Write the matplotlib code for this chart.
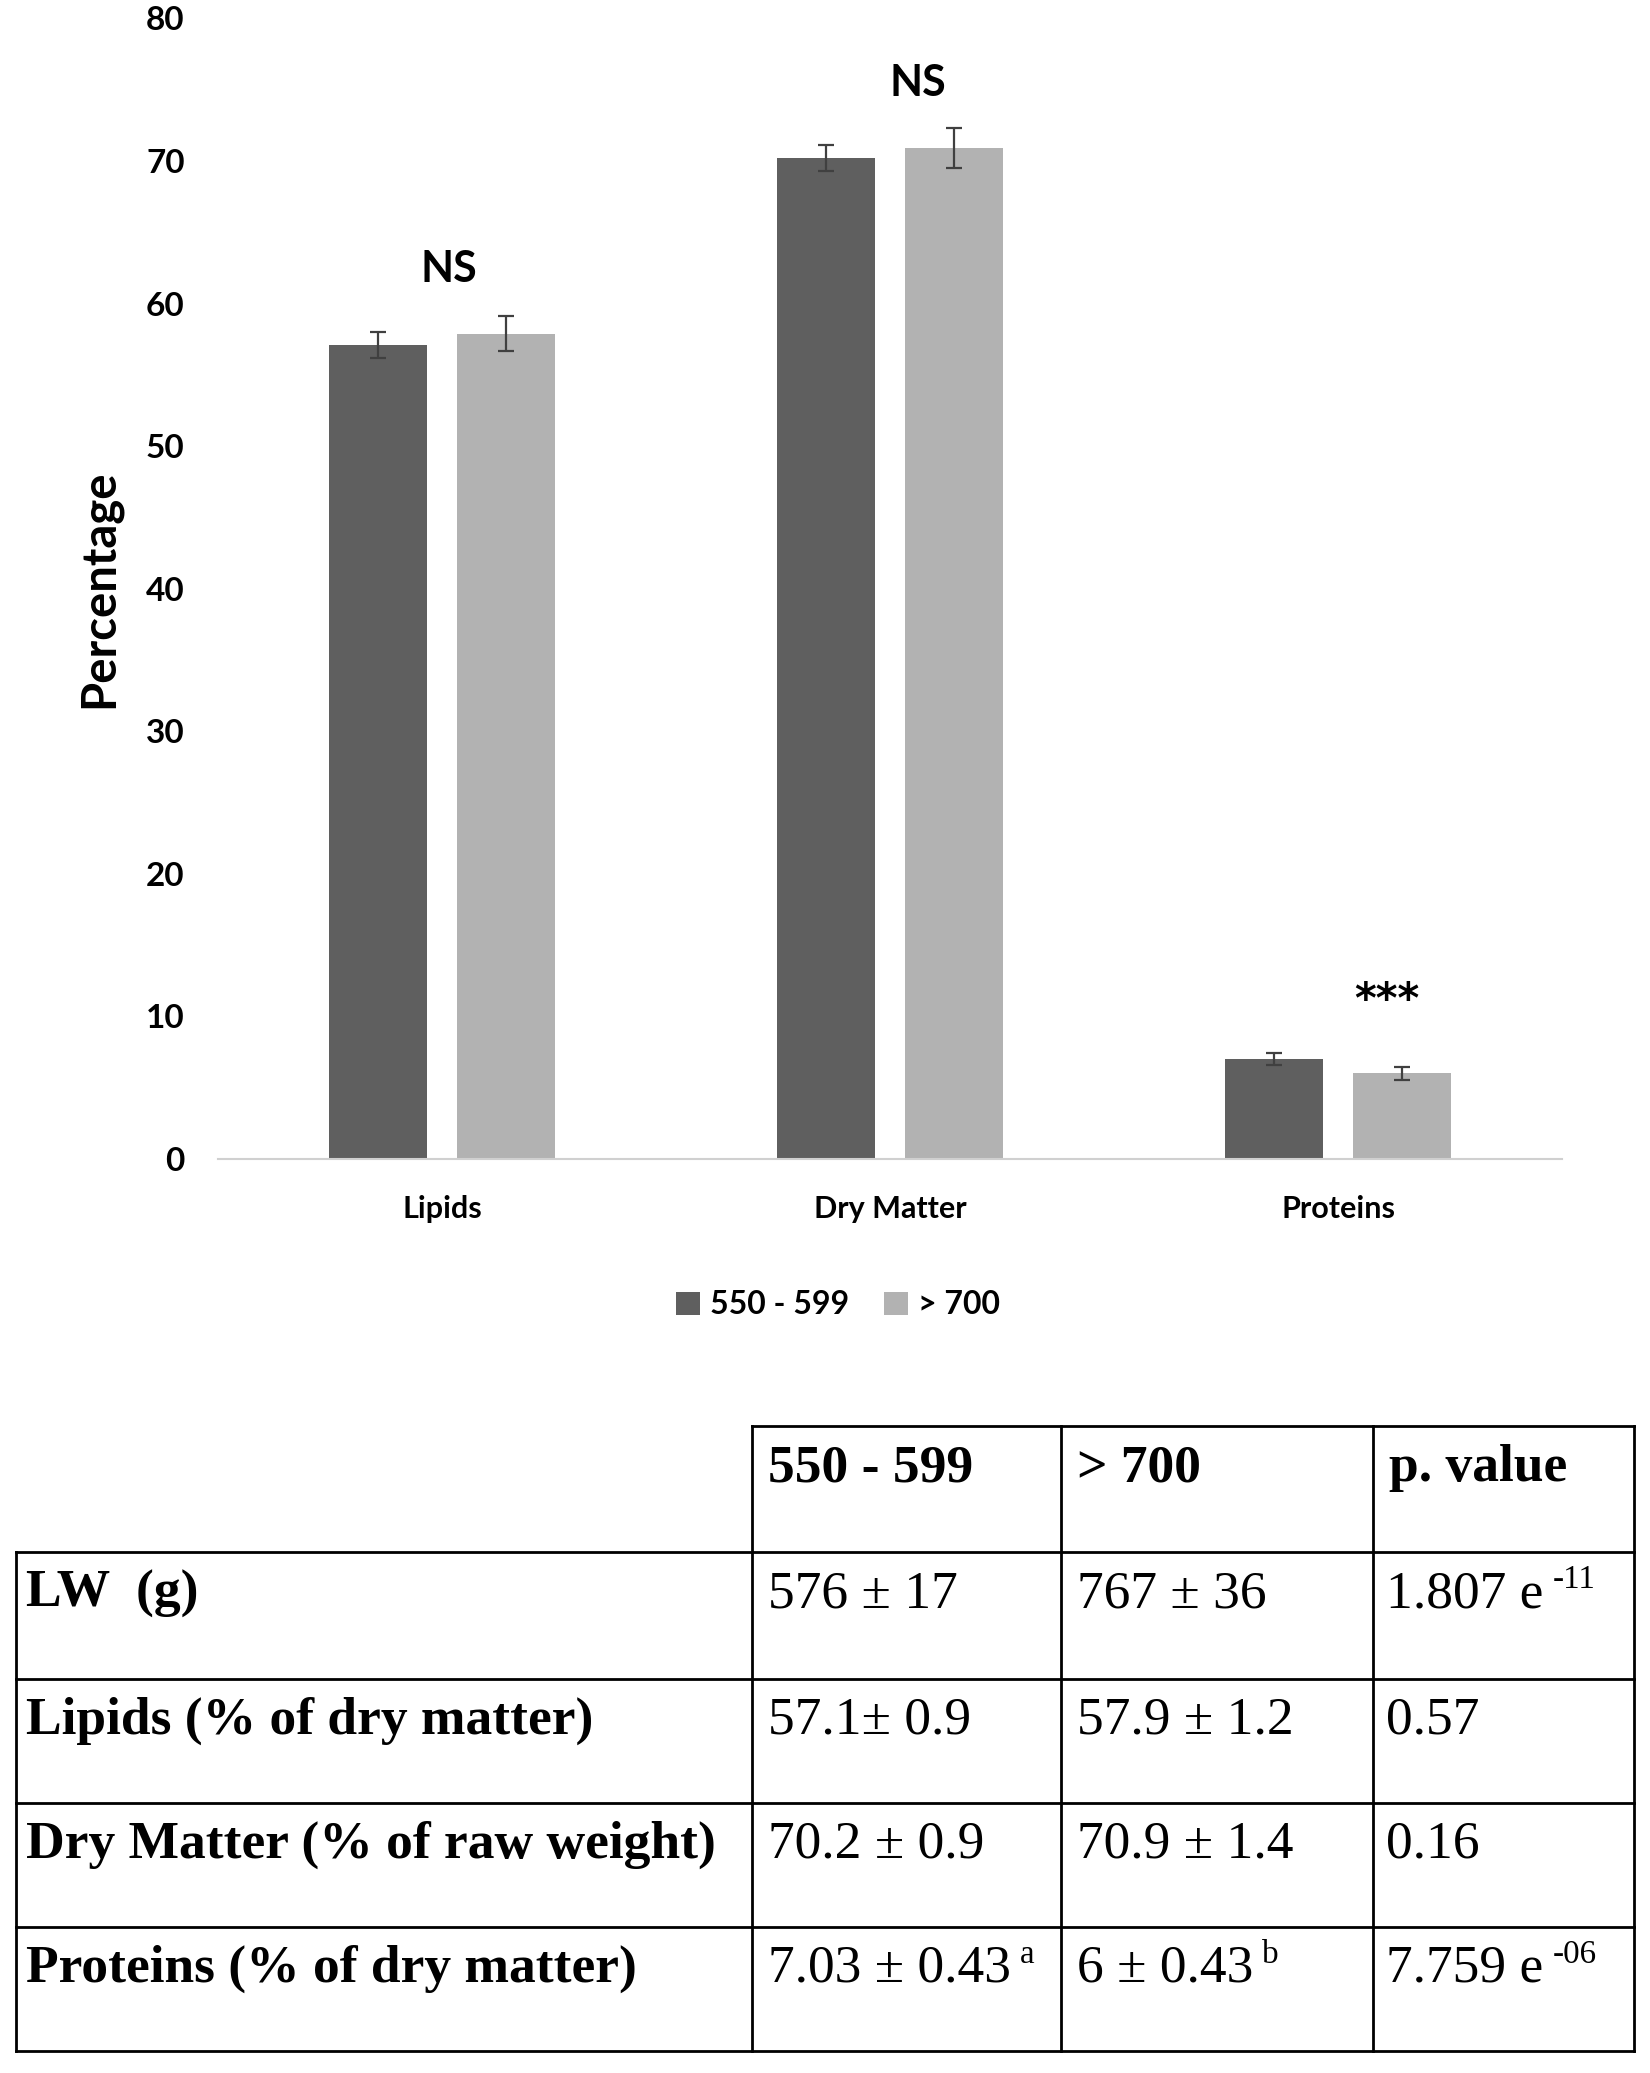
import matplotlib
matplotlib.use("Agg")
import matplotlib.pyplot as plt
import numpy as np

# chart data
categories = ["Lipids", "Dry Matter", "Proteins"]
groups = ["550 - 599", "> 700"]
mean_small = [57.1, 70.2, 7.03]
mean_large = [57.9, 70.9, 6.0]
err_small = [0.9, 0.9, 0.43]
err_large = [1.2, 1.4, 0.43]
signif = ["NS", "NS", "***"]
signif_x = [0.016, 1.063, 2.11]
signif_y = [62.4, 75.5, 11.1]
yticks = [0, 10, 20, 30, 40, 50, 60, 70, 80]

# table data
table_header = ["550 - 599", "> 700", "p. value"]
row_labels = ["LW  (g)", "Lipids (% of dry matter)", "Dry Matter (% of raw weight)", "Proteins (% of dry matter)"]
col_small = ["576 \u00b1 17", "57.1\u00b1 0.9", "70.2 \u00b1 0.9", "7.03 \u00b1 0.43"]
col_large = ["767 \u00b1 36", "57.9 \u00b1 1.2", "70.9 \u00b1 1.4", "6 \u00b1 0.43"]
col_pval = ["1.807 e", "0.57", "0.16", "7.759 e"]
sup_small = ["", "", "", "a"]
sup_large = ["", "", "", "b"]
sup_pval = ["-11", "", "", "-06"]

W, H = 1650, 2073
fig = plt.figure(figsize=(W / 100, H / 100), dpi=100)

sans = ["Lato", "DejaVu Sans"]
serif = ["Liberation Serif", "DejaVu Serif"]

ax = fig.add_axes([218 / W, 1 - 1159 / H, (1562 - 218) / W, (1159 - 18.5) / H])
x = np.arange(len(categories))
bw = 0.22
off = 0.143
dark = "#5f5f5f"
light = "#b2b2b2"
ekw = dict(ecolor="#404040", elinewidth=1.6, capsize=5.5, capthick=1.6)
ax.bar(x - off, mean_small, bw, color=dark, yerr=err_small, error_kw=ekw, label=groups[0])
ax.bar(x + off, mean_large, bw, color=light, yerr=err_large, error_kw=ekw, label=groups[1])
ax.set_xlim(-0.5, 2.5)
ax.set_ylim(0, 80)
ax.set_yticks(yticks)
ax.set_yticklabels([str(t) for t in yticks], fontsize=24, fontweight="bold", family=sans)
ax.set_xticks(x)
ax.set_xticklabels(categories, fontsize=22, fontweight="bold", family=sans)
ax.tick_params(axis="both", length=0)
ax.tick_params(axis="y", pad=24)
ax.tick_params(axis="x", pad=26)
for s in ["top", "right", "left"]:
    ax.spines[s].set_visible(False)
ax.spines["bottom"].set_color("#d0d0d0")
ax.spines["bottom"].set_linewidth(1.5)
ax.set_ylabel("Percentage", fontsize=34, fontweight="bold", family=sans, labelpad=18)
for i in range(len(signif)):
    if signif[i] == "***":
        ax.text(signif_x[i], signif_y[i], signif[i], ha="center", va="center",
                fontsize=30, fontweight="bold", family="DejaVu Sans")
    else:
        ax.text(signif_x[i], signif_y[i], signif[i], ha="center", va="center",
                fontsize=31, fontweight="bold", family=sans)

fig.legend(loc="center", bbox_to_anchor=(838 / W, 1 - 1305 / H), ncol=2, frameon=False,
           prop={"family": sans, "weight": "bold", "size": 23},
           handlelength=0.75, handleheight=0.75, handletextpad=0.3, columnspacing=1.1)

# table drawn in pixel coordinates
tx = fig.add_axes([0, 0, 1, 1])
tx.set_xlim(0, W)
tx.set_ylim(H, 0)
tx.axis("off")
xs = [16, 752, 1061, 1373, 1634]
ys = [1426, 1552, 1679, 1803, 1927, 2051]
lw = 2.0
# header box (no first cell)
tx.plot([xs[1], xs[4]], [ys[0], ys[0]], color="black", lw=lw)
for xv in xs[1:]:
    tx.plot([xv, xv], [ys[0], ys[-1]], color="black", lw=lw)
tx.plot([xs[0], xs[0]], [ys[1], ys[-1]], color="black", lw=lw)
for yv in ys[1:]:
    tx.plot([xs[0], xs[4]], [yv, yv], color="black", lw=lw)

fs = 38.5
dy = 42
for j, h in enumerate(table_header):
    tx.text(xs[j + 1] + 16, ys[0] + dy, h, ha="left", va="center", fontsize=fs,
            fontweight="bold", family=serif)

pix = matplotlib.transforms.blended_transform_factory(
    matplotlib.transforms.IdentityTransform(), tx.transData)


def cell(xp, yp, txt, sup):
    t = tx.text(xp, yp, txt, ha="left", va="center", fontsize=fs, family=serif)
    if sup:
        fig.canvas.draw()
        bb = t.get_window_extent()
        tx.text(bb.x1 + 9, yp - 14, sup, ha="left", va="center", fontsize=fs * 0.62,
                family=serif, transform=pix)


for i in range(len(row_labels)):
    yc = ys[i + 1] + dy
    tx.text(xs[0] + 10, yc, row_labels[i], ha="left", va="center", fontsize=fs,
            fontweight="bold", family=serif)
    cell(xs[1] + 16, yc, col_small[i], sup_small[i])
    cell(xs[2] + 16, yc, col_large[i], sup_large[i])
    cell(xs[3] + 13, yc, col_pval[i], sup_pval[i])

fig.savefig("out.png", dpi=100)
